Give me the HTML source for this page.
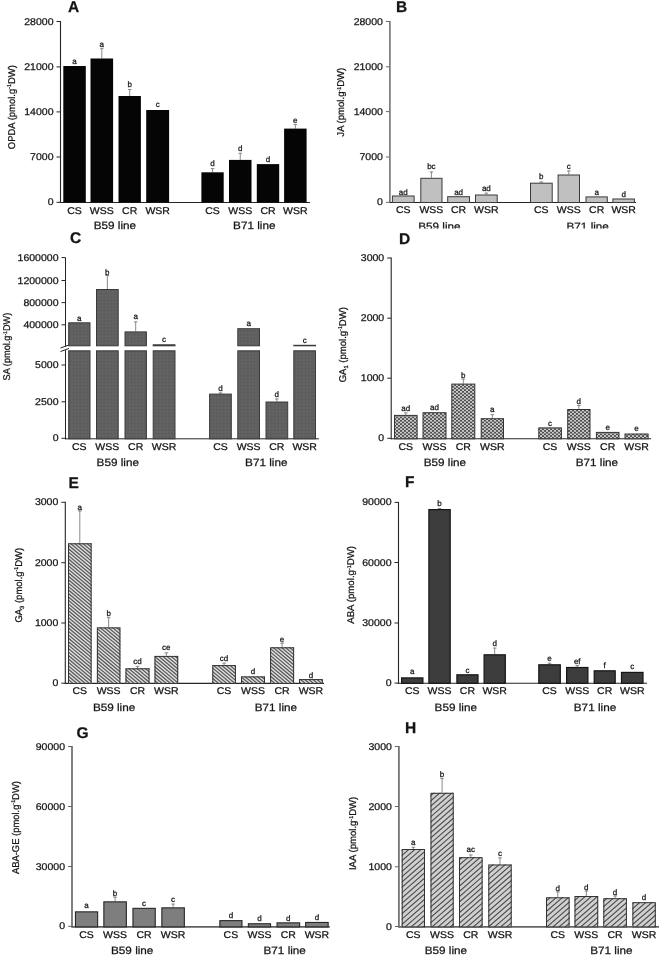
<!DOCTYPE html>
<html><head><meta charset="utf-8"><style>
html,body{margin:0;padding:0;background:#fff;}
svg{display:block;filter:blur(0.3px);}
.t{font-family:"Liberation Sans", sans-serif;fill:#141414;stroke:#141414;stroke-width:0.25px;text-rendering:geometricPrecision;}
</style></head><body>
<svg width="660" height="958" viewBox="0 0 660 958">
<rect width="660" height="958" fill="#fff"/>
<defs>
<pattern id="pC" width="2" height="2" patternUnits="userSpaceOnUse" patternTransform="rotate(45)">
<rect width="2" height="2" fill="#686868"/><rect width="1" height="1" fill="#585858"/><rect x="1" y="1" width="1" height="1" fill="#585858"/>
</pattern>
<pattern id="pD" width="4" height="3.4" patternUnits="userSpaceOnUse">
<rect width="4" height="3.4" fill="#505050"/><rect x="0.15" y="0.1" width="1.75" height="1.5" fill="#f0f0f0"/><rect x="2.15" y="1.8" width="1.75" height="1.5" fill="#f0f0f0"/>
</pattern>
<pattern id="pE" width="2.3" height="2.3" patternUnits="userSpaceOnUse" patternTransform="rotate(37)">
<rect width="2.3" height="2.3" fill="#dcdcdc"/><rect width="2.3" height="1.15" fill="#555"/>
</pattern>
<pattern id="pH" width="4.2" height="4.2" patternUnits="userSpaceOnUse" patternTransform="rotate(-36)">
<rect width="4.2" height="4.2" fill="#cdcdcd"/><rect width="4.2" height="1" fill="#505050"/>
</pattern>
<clipPath id="clipB"><rect x="330" y="0" width="330" height="228.6"/></clipPath>
</defs>
<line x1="60.5" y1="21" x2="60.5" y2="203" stroke="#262626" stroke-width="1.1"/>
<line x1="60" y1="202.5" x2="310" y2="202.5" stroke="#262626" stroke-width="1.1"/>
<line x1="56.5" y1="21.5" x2="60.5" y2="21.5" stroke="#262626" stroke-width="1"/>
<text x="53.5" y="24.5" text-anchor="end" font-size="9.8" textLength="29.25" lengthAdjust="spacingAndGlyphs" class="t">28000</text>
<line x1="56.5" y1="66.9" x2="60.5" y2="66.9" stroke="#262626" stroke-width="1"/>
<text x="53.5" y="69.9" text-anchor="end" font-size="9.8" textLength="29.25" lengthAdjust="spacingAndGlyphs" class="t">21000</text>
<line x1="56.5" y1="111.9" x2="60.5" y2="111.9" stroke="#262626" stroke-width="1"/>
<text x="53.5" y="114.9" text-anchor="end" font-size="9.8" textLength="29.25" lengthAdjust="spacingAndGlyphs" class="t">14000</text>
<line x1="56.5" y1="157" x2="60.5" y2="157" stroke="#262626" stroke-width="1"/>
<text x="53.5" y="160" text-anchor="end" font-size="9.8" textLength="23.4" lengthAdjust="spacingAndGlyphs" class="t">7000</text>
<line x1="56.5" y1="202.3" x2="60.5" y2="202.3" stroke="#262626" stroke-width="1"/>
<text x="53.5" y="205.3" text-anchor="end" font-size="9.8" textLength="5.85" lengthAdjust="spacingAndGlyphs" class="t">0</text>
<rect x="63.3" y="66" width="22.5" height="136.5" fill="#050505"/>
<text x="74.55" y="63.6" text-anchor="middle" font-size="8.0" class="t">a</text>
<line x1="101.8" y1="48.2" x2="101.8" y2="58.5" stroke="#8a8a8a" stroke-width="1"/>
<line x1="100" y1="48.7" x2="103.6" y2="48.7" stroke="#8a8a8a" stroke-width="1"/>
<rect x="90.5" y="58.5" width="22.6" height="144" fill="#050505"/>
<text x="101.8" y="46.7" text-anchor="middle" font-size="8.0" class="t">a</text>
<line x1="129.7" y1="89" x2="129.7" y2="96" stroke="#8a8a8a" stroke-width="1"/>
<line x1="127.9" y1="89.5" x2="131.5" y2="89.5" stroke="#8a8a8a" stroke-width="1"/>
<rect x="118.5" y="96" width="22.4" height="106.5" fill="#050505"/>
<text x="129.7" y="86.7" text-anchor="middle" font-size="8.0" class="t">b</text>
<rect x="146.2" y="110" width="22.9" height="92.5" fill="#050505"/>
<text x="157.65" y="107.3" text-anchor="middle" font-size="8.0" class="t">c</text>
<line x1="212.55" y1="168.1" x2="212.55" y2="172.3" stroke="#8a8a8a" stroke-width="1"/>
<line x1="210.75" y1="168.6" x2="214.35" y2="168.6" stroke="#8a8a8a" stroke-width="1"/>
<rect x="201.4" y="172.3" width="22.3" height="30.2" fill="#050505"/>
<text x="212.55" y="166.3" text-anchor="middle" font-size="8.0" class="t">d</text>
<line x1="240.25" y1="152.8" x2="240.25" y2="159.9" stroke="#8a8a8a" stroke-width="1"/>
<line x1="238.45" y1="153.3" x2="242.05" y2="153.3" stroke="#8a8a8a" stroke-width="1"/>
<rect x="229" y="159.9" width="22.5" height="42.6" fill="#050505"/>
<text x="240.25" y="150.5" text-anchor="middle" font-size="8.0" class="t">d</text>
<rect x="256.8" y="164.1" width="22.4" height="38.4" fill="#050505"/>
<text x="268" y="161.9" text-anchor="middle" font-size="8.0" class="t">d</text>
<line x1="295.35" y1="124.1" x2="295.35" y2="128.6" stroke="#8a8a8a" stroke-width="1"/>
<line x1="293.55" y1="124.6" x2="297.15" y2="124.6" stroke="#8a8a8a" stroke-width="1"/>
<rect x="284.1" y="128.6" width="22.5" height="73.9" fill="#050505"/>
<text x="295.35" y="123.2" text-anchor="middle" font-size="8.0" class="t">e</text>
<text x="74.55" y="214.1" text-anchor="middle" font-size="9.8" textLength="14.59" lengthAdjust="spacingAndGlyphs" class="t">CS</text>
<text x="101.8" y="214.1" text-anchor="middle" font-size="9.8" textLength="23.93" lengthAdjust="spacingAndGlyphs" class="t">WSS</text>
<text x="129.7" y="214.1" text-anchor="middle" font-size="9.8" textLength="15.17" lengthAdjust="spacingAndGlyphs" class="t">CR</text>
<text x="157.65" y="214.1" text-anchor="middle" font-size="9.8" textLength="24.51" lengthAdjust="spacingAndGlyphs" class="t">WSR</text>
<text x="212.55" y="214.1" text-anchor="middle" font-size="9.8" textLength="14.59" lengthAdjust="spacingAndGlyphs" class="t">CS</text>
<text x="240.25" y="214.1" text-anchor="middle" font-size="9.8" textLength="23.93" lengthAdjust="spacingAndGlyphs" class="t">WSS</text>
<text x="268" y="214.1" text-anchor="middle" font-size="9.8" textLength="15.17" lengthAdjust="spacingAndGlyphs" class="t">CR</text>
<text x="295.35" y="214.1" text-anchor="middle" font-size="9.8" textLength="24.51" lengthAdjust="spacingAndGlyphs" class="t">WSR</text>
<text x="114.9" y="229" text-anchor="middle" font-size="10.6" textLength="42.4" lengthAdjust="spacingAndGlyphs" class="t">B59 line</text>
<text x="254.3" y="228.8" text-anchor="middle" font-size="10.6" textLength="42.4" lengthAdjust="spacingAndGlyphs" class="t">B71 line</text>
<text transform="translate(14.6,107.17) rotate(-90)" text-anchor="middle" font-size="9.8" textLength="83.95" lengthAdjust="spacingAndGlyphs" class="t">OPDA (pmol.g<tspan font-size="5.5" dy="-3.5">-1</tspan><tspan dy="3.5">DW)</tspan></text>
<text x="68" y="11.8" font-size="15.5" font-weight="bold" class="t">A</text>
<g clip-path="url(#clipB)">
<line x1="389.9" y1="21" x2="389.9" y2="203" stroke="#6a6a6a" stroke-width="1.5"/>
<line x1="389.4" y1="202.5" x2="636" y2="202.5" stroke="#222" stroke-width="1.2"/>
<line x1="385.9" y1="21.5" x2="389.9" y2="21.5" stroke="#6a6a6a" stroke-width="1"/>
<text x="382.9" y="24.5" text-anchor="end" font-size="9.8" textLength="29.25" lengthAdjust="spacingAndGlyphs" class="t">28000</text>
<line x1="385.9" y1="66.8" x2="389.9" y2="66.8" stroke="#6a6a6a" stroke-width="1"/>
<text x="382.9" y="69.8" text-anchor="end" font-size="9.8" textLength="29.25" lengthAdjust="spacingAndGlyphs" class="t">21000</text>
<line x1="385.9" y1="111.6" x2="389.9" y2="111.6" stroke="#6a6a6a" stroke-width="1"/>
<text x="382.9" y="114.6" text-anchor="end" font-size="9.8" textLength="29.25" lengthAdjust="spacingAndGlyphs" class="t">14000</text>
<line x1="385.9" y1="157" x2="389.9" y2="157" stroke="#6a6a6a" stroke-width="1"/>
<text x="382.9" y="160" text-anchor="end" font-size="9.8" textLength="23.4" lengthAdjust="spacingAndGlyphs" class="t">7000</text>
<line x1="385.9" y1="202.3" x2="389.9" y2="202.3" stroke="#6a6a6a" stroke-width="1"/>
<text x="382.9" y="205.3" text-anchor="end" font-size="9.8" textLength="5.85" lengthAdjust="spacingAndGlyphs" class="t">0</text>
<rect x="392.4" y="196" width="21.7" height="6.5" fill="#c0c0c0" stroke="#3a3a3a" stroke-width="1"/>
<text x="403.25" y="194.5" text-anchor="middle" font-size="8.0" class="t">ad</text>
<line x1="431.4" y1="171.5" x2="431.4" y2="177.8" stroke="#8a8a8a" stroke-width="1"/>
<line x1="429.6" y1="172" x2="433.2" y2="172" stroke="#8a8a8a" stroke-width="1"/>
<rect x="420.8" y="178.3" width="21.2" height="24.2" fill="#c0c0c0" stroke="#3a3a3a" stroke-width="1"/>
<text x="431.4" y="169.3" text-anchor="middle" font-size="8.0" class="t">bc</text>
<rect x="447.7" y="196.7" width="21.8" height="5.8" fill="#c0c0c0" stroke="#3a3a3a" stroke-width="1"/>
<text x="458.6" y="194.5" text-anchor="middle" font-size="8.0" class="t">ad</text>
<line x1="486.35" y1="192.7" x2="486.35" y2="194.5" stroke="#8a8a8a" stroke-width="1"/>
<line x1="484.55" y1="193.2" x2="488.15" y2="193.2" stroke="#8a8a8a" stroke-width="1"/>
<rect x="475.5" y="195" width="21.7" height="7.5" fill="#c0c0c0" stroke="#3a3a3a" stroke-width="1"/>
<text x="486.35" y="191.3" text-anchor="middle" font-size="8.0" class="t">ad</text>
<line x1="541.35" y1="181.5" x2="541.35" y2="182.7" stroke="#8a8a8a" stroke-width="1"/>
<line x1="539.55" y1="182" x2="543.15" y2="182" stroke="#8a8a8a" stroke-width="1"/>
<rect x="530.5" y="183.2" width="21.7" height="19.3" fill="#c0c0c0" stroke="#3a3a3a" stroke-width="1"/>
<text x="541.35" y="179.1" text-anchor="middle" font-size="8.0" class="t">b</text>
<line x1="568.8" y1="170.5" x2="568.8" y2="174.5" stroke="#8a8a8a" stroke-width="1"/>
<line x1="567" y1="171" x2="570.6" y2="171" stroke="#8a8a8a" stroke-width="1"/>
<rect x="558.1" y="175" width="21.4" height="27.5" fill="#c0c0c0" stroke="#3a3a3a" stroke-width="1"/>
<text x="568.8" y="168.7" text-anchor="middle" font-size="8.0" class="t">c</text>
<rect x="586" y="196.9" width="21.3" height="5.6" fill="#c0c0c0" stroke="#3a3a3a" stroke-width="1"/>
<text x="596.65" y="194.5" text-anchor="middle" font-size="8.0" class="t">a</text>
<rect x="612.9" y="199" width="21.5" height="3.5" fill="#c0c0c0" stroke="#3a3a3a" stroke-width="1"/>
<text x="623.65" y="197.3" text-anchor="middle" font-size="8.0" class="t">d</text>
<text x="403.25" y="213.2" text-anchor="middle" font-size="9.8" textLength="14.59" lengthAdjust="spacingAndGlyphs" class="t">CS</text>
<text x="431.4" y="213.2" text-anchor="middle" font-size="9.8" textLength="23.93" lengthAdjust="spacingAndGlyphs" class="t">WSS</text>
<text x="458.6" y="213.2" text-anchor="middle" font-size="9.8" textLength="15.17" lengthAdjust="spacingAndGlyphs" class="t">CR</text>
<text x="486.35" y="213.2" text-anchor="middle" font-size="9.8" textLength="24.51" lengthAdjust="spacingAndGlyphs" class="t">WSR</text>
<text x="541.35" y="213.2" text-anchor="middle" font-size="9.8" textLength="14.59" lengthAdjust="spacingAndGlyphs" class="t">CS</text>
<text x="568.8" y="213.2" text-anchor="middle" font-size="9.8" textLength="23.93" lengthAdjust="spacingAndGlyphs" class="t">WSS</text>
<text x="596.65" y="213.2" text-anchor="middle" font-size="9.8" textLength="15.17" lengthAdjust="spacingAndGlyphs" class="t">CR</text>
<text x="623.65" y="213.2" text-anchor="middle" font-size="9.8" textLength="24.51" lengthAdjust="spacingAndGlyphs" class="t">WSR</text>
<text x="439.4" y="229.6" text-anchor="middle" font-size="10.6" textLength="42.4" lengthAdjust="spacingAndGlyphs" class="t">B59 line</text>
<text x="587.7" y="229.6" text-anchor="middle" font-size="10.6" textLength="42.4" lengthAdjust="spacingAndGlyphs" class="t">B71 line</text>
<text transform="translate(344.2,102.17) rotate(-90)" text-anchor="middle" font-size="9.8" textLength="68.95" lengthAdjust="spacingAndGlyphs" class="t">JA (pmol.g<tspan font-size="5.5" dy="-3.5">-1</tspan><tspan dy="3.5">DW)</tspan></text>
<text x="396.1" y="12" font-size="15.5" font-weight="bold" class="t">B</text>
</g>
<line x1="391.2" y1="257.5" x2="391.2" y2="439.3" stroke="#262626" stroke-width="1.1"/>
<line x1="390.7" y1="438.8" x2="651" y2="438.8" stroke="#262626" stroke-width="1.1"/>
<line x1="387.2" y1="258" x2="391.2" y2="258" stroke="#262626" stroke-width="1"/>
<text x="384.2" y="261" text-anchor="end" font-size="9.8" textLength="23.4" lengthAdjust="spacingAndGlyphs" class="t">3000</text>
<line x1="387.2" y1="318.2" x2="391.2" y2="318.2" stroke="#262626" stroke-width="1"/>
<text x="384.2" y="321.2" text-anchor="end" font-size="9.8" textLength="23.4" lengthAdjust="spacingAndGlyphs" class="t">2000</text>
<line x1="387.2" y1="378.2" x2="391.2" y2="378.2" stroke="#262626" stroke-width="1"/>
<text x="384.2" y="381.2" text-anchor="end" font-size="9.8" textLength="23.4" lengthAdjust="spacingAndGlyphs" class="t">1000</text>
<line x1="387.2" y1="438.3" x2="391.2" y2="438.3" stroke="#262626" stroke-width="1"/>
<text x="384.2" y="441.3" text-anchor="end" font-size="9.8" textLength="5.85" lengthAdjust="spacingAndGlyphs" class="t">0</text>
<line x1="405.8" y1="412.4" x2="405.8" y2="414.9" stroke="#8a8a8a" stroke-width="1"/>
<line x1="404" y1="412.9" x2="407.6" y2="412.9" stroke="#8a8a8a" stroke-width="1"/>
<rect x="394.5" y="415.4" width="22.6" height="23.4" fill="url(#pD)" stroke="#333" stroke-width="1"/>
<text x="405.8" y="410.9" text-anchor="middle" font-size="8.0" class="t">ad</text>
<rect x="423" y="412.7" width="23" height="26.1" fill="url(#pD)" stroke="#333" stroke-width="1"/>
<text x="434.5" y="410" text-anchor="middle" font-size="8.0" class="t">ad</text>
<line x1="463.3" y1="378.7" x2="463.3" y2="383.6" stroke="#8a8a8a" stroke-width="1"/>
<line x1="461.5" y1="379.2" x2="465.1" y2="379.2" stroke="#8a8a8a" stroke-width="1"/>
<rect x="451.8" y="384.1" width="23" height="54.7" fill="url(#pD)" stroke="#333" stroke-width="1"/>
<text x="463.3" y="377.6" text-anchor="middle" font-size="8.0" class="t">b</text>
<line x1="492.35" y1="414.2" x2="492.35" y2="418.2" stroke="#8a8a8a" stroke-width="1"/>
<line x1="490.55" y1="414.7" x2="494.15" y2="414.7" stroke="#8a8a8a" stroke-width="1"/>
<rect x="481.2" y="418.7" width="22.3" height="20.1" fill="url(#pD)" stroke="#333" stroke-width="1"/>
<text x="492.35" y="411.8" text-anchor="middle" font-size="8.0" class="t">a</text>
<rect x="538.8" y="427.9" width="22.6" height="10.9" fill="url(#pD)" stroke="#333" stroke-width="1"/>
<text x="550.1" y="425.9" text-anchor="middle" font-size="8.0" class="t">c</text>
<line x1="578.85" y1="405" x2="578.85" y2="409" stroke="#8a8a8a" stroke-width="1"/>
<line x1="577.05" y1="405.5" x2="580.65" y2="405.5" stroke="#8a8a8a" stroke-width="1"/>
<rect x="567.7" y="409.5" width="22.3" height="29.3" fill="url(#pD)" stroke="#333" stroke-width="1"/>
<text x="578.85" y="403.7" text-anchor="middle" font-size="8.0" class="t">d</text>
<rect x="596.4" y="432.4" width="22.6" height="6.4" fill="url(#pD)" stroke="#333" stroke-width="1"/>
<text x="607.7" y="429.9" text-anchor="middle" font-size="8.0" class="t">e</text>
<rect x="625" y="434" width="23.1" height="4.8" fill="url(#pD)" stroke="#333" stroke-width="1"/>
<text x="636.55" y="431.4" text-anchor="middle" font-size="8.0" class="t">e</text>
<text x="405.8" y="450" text-anchor="middle" font-size="9.8" textLength="14.59" lengthAdjust="spacingAndGlyphs" class="t">CS</text>
<text x="434.5" y="450" text-anchor="middle" font-size="9.8" textLength="23.93" lengthAdjust="spacingAndGlyphs" class="t">WSS</text>
<text x="463.3" y="450" text-anchor="middle" font-size="9.8" textLength="15.17" lengthAdjust="spacingAndGlyphs" class="t">CR</text>
<text x="492.35" y="450" text-anchor="middle" font-size="9.8" textLength="24.51" lengthAdjust="spacingAndGlyphs" class="t">WSR</text>
<text x="550.1" y="450" text-anchor="middle" font-size="9.8" textLength="14.59" lengthAdjust="spacingAndGlyphs" class="t">CS</text>
<text x="578.85" y="450" text-anchor="middle" font-size="9.8" textLength="23.93" lengthAdjust="spacingAndGlyphs" class="t">WSS</text>
<text x="607.7" y="450" text-anchor="middle" font-size="9.8" textLength="15.17" lengthAdjust="spacingAndGlyphs" class="t">CR</text>
<text x="636.55" y="450" text-anchor="middle" font-size="9.8" textLength="24.51" lengthAdjust="spacingAndGlyphs" class="t">WSR</text>
<text x="444.9" y="466.3" text-anchor="middle" font-size="10.6" textLength="42.4" lengthAdjust="spacingAndGlyphs" class="t">B59 line</text>
<text x="596.9" y="466.3" text-anchor="middle" font-size="10.6" textLength="42.4" lengthAdjust="spacingAndGlyphs" class="t">B71 line</text>
<text transform="translate(345.6,344.7) rotate(-90)" text-anchor="middle" font-size="9.8" textLength="75.2" lengthAdjust="spacingAndGlyphs" class="t">GA<tspan font-size="6" dy="2">1</tspan><tspan dy="-2"> </tspan> (pmol.g<tspan font-size="5.5" dy="-3.5">-1</tspan><tspan dy="3.5">DW)</tspan></text>
<text x="399.1" y="243.8" font-size="15.5" font-weight="bold" class="t">D</text>
<line x1="65.3" y1="501.8" x2="65.3" y2="683.9" stroke="#262626" stroke-width="1.1"/>
<line x1="64.8" y1="683.4" x2="324" y2="683.4" stroke="#262626" stroke-width="1.1"/>
<line x1="61.3" y1="502.3" x2="65.3" y2="502.3" stroke="#262626" stroke-width="1"/>
<text x="58.3" y="505.3" text-anchor="end" font-size="9.8" textLength="23.4" lengthAdjust="spacingAndGlyphs" class="t">3000</text>
<line x1="61.3" y1="562.7" x2="65.3" y2="562.7" stroke="#262626" stroke-width="1"/>
<text x="58.3" y="565.7" text-anchor="end" font-size="9.8" textLength="23.4" lengthAdjust="spacingAndGlyphs" class="t">2000</text>
<line x1="61.3" y1="623" x2="65.3" y2="623" stroke="#262626" stroke-width="1"/>
<text x="58.3" y="626" text-anchor="end" font-size="9.8" textLength="23.4" lengthAdjust="spacingAndGlyphs" class="t">1000</text>
<line x1="61.3" y1="683.2" x2="65.3" y2="683.2" stroke="#262626" stroke-width="1"/>
<text x="58.3" y="686.2" text-anchor="end" font-size="9.8" textLength="5.85" lengthAdjust="spacingAndGlyphs" class="t">0</text>
<line x1="79.8" y1="510.5" x2="79.8" y2="543.3" stroke="#8a8a8a" stroke-width="1"/>
<line x1="78" y1="511" x2="81.6" y2="511" stroke="#8a8a8a" stroke-width="1"/>
<clipPath id="hc1"><rect x="68" y="543.3" width="23.6" height="140.1"/></clipPath>
<rect x="68" y="543.3" width="23.6" height="140.1" fill="#dedede"/>
<path clip-path="url(#hc1)" d="M71.37 509.78L183.26 603.67M69.67 511.8L181.57 605.69M67.97 513.82L179.87 607.72M66.27 515.84L178.17 609.74M64.58 517.87L176.48 611.76M62.88 519.89L174.78 613.78M61.18 521.91L173.08 615.81M59.49 523.93L171.39 617.83M57.79 525.96L169.69 619.85M56.09 527.98L167.99 621.87M54.4 530L166.29 623.89M52.7 532.02L164.6 625.92M51 534.05L162.9 627.94M49.3 536.07L161.2 629.96M47.61 538.09L159.51 631.98M45.91 540.11L157.81 634.01M44.21 542.13L156.11 636.03M42.52 544.16L154.42 638.05M40.82 546.18L152.72 640.07M39.12 548.2L151.02 642.1M37.43 550.22L149.33 644.12M35.73 552.25L147.63 646.14M34.03 554.27L145.93 648.16M32.34 556.29L144.23 650.19M30.64 558.31L142.54 652.21M28.94 560.34L140.84 654.23M27.24 562.36L139.14 656.25M25.55 564.38L137.45 658.27M23.85 566.4L135.75 660.3M22.15 568.43L134.05 662.32M20.46 570.45L132.36 664.34M18.76 572.47L130.66 666.36M17.06 574.49L128.96 668.39M15.37 576.51L127.26 670.41M13.67 578.54L125.57 672.43M11.97 580.56L123.87 674.45M10.27 582.58L122.17 676.48M8.58 584.6L120.48 678.5M6.88 586.63L118.78 680.52M5.18 588.65L117.08 682.54M3.49 590.67L115.39 684.57M1.79 592.69L113.69 686.59M0.09 594.72L111.99 688.61M-1.6 596.74L110.3 690.63M-3.3 598.76L108.6 692.65M-5 600.78L106.9 694.68M-6.69 602.81L105.2 696.7M-8.39 604.83L103.51 698.72M-10.09 606.85L101.81 700.74M-11.79 608.87L100.11 702.77M-13.48 610.89L98.42 704.79M-15.18 612.92L96.72 706.81M-16.88 614.94L95.02 708.83M-18.57 616.96L93.33 710.86M-20.27 618.98L91.63 712.88M-21.97 621.01L89.93 714.9M-23.66 623.03L88.23 716.92" stroke="#5a5a5a" stroke-width="1.25" fill="none"/>
<rect x="68.5" y="543.8" width="22.6" height="139.6" fill="none" stroke="#333" stroke-width="1"/>
<text x="79.8" y="509.8" text-anchor="middle" font-size="8.0" class="t">a</text>
<line x1="108.65" y1="617.2" x2="108.65" y2="627.4" stroke="#8a8a8a" stroke-width="1"/>
<line x1="106.85" y1="617.7" x2="110.45" y2="617.7" stroke="#8a8a8a" stroke-width="1"/>
<clipPath id="hc2"><rect x="96.9" y="627.4" width="23.5" height="56"/></clipPath>
<rect x="96.9" y="627.4" width="23.5" height="56" fill="#dedede"/>
<path clip-path="url(#hc2)" d="M105.92 608.31L155.5 649.91M104.22 610.33L153.81 651.94M102.52 612.35L152.11 653.96M100.83 614.37L150.41 655.98M99.13 616.39L148.72 658M97.43 618.42L147.02 660.03M95.74 620.44L145.32 662.05M94.04 622.46L143.63 664.07M92.34 624.48L141.93 666.09M90.64 626.51L140.23 668.11M88.95 628.53L138.53 670.14M87.25 630.55L136.84 672.16M85.55 632.57L135.14 674.18M83.86 634.6L133.44 676.2M82.16 636.62L131.75 678.23M80.46 638.64L130.05 680.25M78.77 640.66L128.35 682.27M77.07 642.69L126.66 684.29M75.37 644.71L124.96 686.32M73.67 646.73L123.26 688.34M71.98 648.75L121.56 690.36M70.28 650.77L119.87 692.38M68.58 652.8L118.17 694.41M66.89 654.82L116.47 696.43M65.19 656.84L114.78 698.45M63.49 658.86L113.08 700.47M61.8 660.89L111.38 702.49" stroke="#5a5a5a" stroke-width="1.25" fill="none"/>
<rect x="97.4" y="627.9" width="22.5" height="55.5" fill="none" stroke="#333" stroke-width="1"/>
<text x="108.65" y="615.9" text-anchor="middle" font-size="8.0" class="t">b</text>
<line x1="137.5" y1="665.9" x2="137.5" y2="668.3" stroke="#8a8a8a" stroke-width="1"/>
<line x1="135.7" y1="666.4" x2="139.3" y2="666.4" stroke="#8a8a8a" stroke-width="1"/>
<clipPath id="hc3"><rect x="125.5" y="668.3" width="24" height="15.1"/></clipPath>
<rect x="125.5" y="668.3" width="24" height="15.1" fill="#dedede"/>
<path clip-path="url(#hc3)" d="M136.99 651.29L161.77 672.09M135.29 653.32L160.07 674.11M133.59 655.34L158.38 676.14M131.9 657.36L156.68 678.16M130.2 659.38L154.98 680.18M128.5 661.41L153.29 682.2M126.8 663.43L151.59 684.23M125.11 665.45L149.89 686.25M123.41 667.47L148.2 688.27M121.71 669.5L146.5 690.29M120.02 671.52L144.8 692.32M118.32 673.54L143.1 694.34M116.62 675.56L141.41 696.36M114.93 677.59L139.71 698.38M113.23 679.61L138.01 700.41" stroke="#5a5a5a" stroke-width="1.25" fill="none"/>
<rect x="126" y="668.8" width="23" height="14.6" fill="none" stroke="#333" stroke-width="1"/>
<text x="137.5" y="663.7" text-anchor="middle" font-size="8.0" class="t">cd</text>
<line x1="166.35" y1="652.3" x2="166.35" y2="655.9" stroke="#8a8a8a" stroke-width="1"/>
<line x1="164.55" y1="652.8" x2="168.15" y2="652.8" stroke="#8a8a8a" stroke-width="1"/>
<clipPath id="hc4"><rect x="154.5" y="655.9" width="23.7" height="27.5"/></clipPath>
<rect x="154.5" y="655.9" width="23.7" height="27.5" fill="#dedede"/>
<path clip-path="url(#hc4)" d="M164.49 640.52L195.36 666.42M162.79 642.54L193.67 668.45M161.09 644.56L191.97 670.47M159.4 646.58L190.27 672.49M157.7 648.61L188.57 674.51M156 650.63L186.88 676.54M154.31 652.65L185.18 678.56M152.61 654.67L183.48 680.58M150.91 656.7L181.79 682.6M149.22 658.72L180.09 684.63M147.52 660.74L178.39 686.65M145.82 662.76L176.7 688.67M144.13 664.79L175 690.69M142.43 666.81L173.3 692.72M140.73 668.83L171.61 694.74M139.03 670.85L169.91 696.76M137.34 672.88L168.21 698.78" stroke="#5a5a5a" stroke-width="1.25" fill="none"/>
<rect x="155" y="656.4" width="22.7" height="27" fill="none" stroke="#333" stroke-width="1"/>
<text x="166.35" y="650.1" text-anchor="middle" font-size="8.0" class="t">ce</text>
<line x1="224.1" y1="662.7" x2="224.1" y2="665.1" stroke="#8a8a8a" stroke-width="1"/>
<line x1="222.3" y1="663.2" x2="225.9" y2="663.2" stroke="#8a8a8a" stroke-width="1"/>
<clipPath id="hc5"><rect x="212.3" y="665.1" width="23.6" height="18.3"/></clipPath>
<rect x="212.3" y="665.1" width="23.6" height="18.3" fill="#dedede"/>
<path clip-path="url(#hc5)" d="M223.01 649.21L248.95 670.98M221.31 651.23L247.25 673M219.61 653.25L245.56 675.02M217.92 655.28L243.86 677.04M216.22 657.3L242.16 679.07M214.52 659.32L240.46 681.09M212.83 661.34L238.77 683.11M211.13 663.37L237.07 685.13M209.43 665.39L235.37 687.16M207.74 667.41L233.68 689.18M206.04 669.43L231.98 691.2M204.34 671.46L230.28 693.22M202.64 673.48L228.59 695.25M200.95 675.5L226.89 697.27M199.25 677.52L225.19 699.29" stroke="#5a5a5a" stroke-width="1.25" fill="none"/>
<rect x="212.8" y="665.6" width="22.6" height="17.8" fill="none" stroke="#333" stroke-width="1"/>
<text x="224.1" y="660.5" text-anchor="middle" font-size="8.0" class="t">cd</text>
<clipPath id="hc6"><rect x="241" y="676.4" width="24" height="7"/></clipPath>
<rect x="241" y="676.4" width="24" height="7" fill="#dedede"/>
<path clip-path="url(#hc6)" d="M252.07 658.45L274.29 677.09M250.38 660.47L272.59 679.11M248.68 662.49L270.9 681.13M246.98 664.51L269.2 683.15M245.29 666.53L267.5 685.18M243.59 668.56L265.8 687.2M241.89 670.58L264.11 689.22M240.2 672.6L262.41 691.24M238.5 674.62L260.71 693.27M236.8 676.65L259.02 695.29M235.1 678.67L257.32 697.31M233.41 680.69L255.62 699.33M231.71 682.71L253.93 701.35" stroke="#5a5a5a" stroke-width="1.25" fill="none"/>
<rect x="241.5" y="676.9" width="23" height="6.5" fill="none" stroke="#333" stroke-width="1"/>
<text x="253" y="674.2" text-anchor="middle" font-size="8.0" class="t">d</text>
<line x1="282.1" y1="642.7" x2="282.1" y2="647.3" stroke="#8a8a8a" stroke-width="1"/>
<line x1="280.3" y1="643.2" x2="283.9" y2="643.2" stroke="#8a8a8a" stroke-width="1"/>
<clipPath id="hc7"><rect x="270.1" y="647.3" width="24" height="36.1"/></clipPath>
<rect x="270.1" y="647.3" width="24" height="36.1" fill="#dedede"/>
<path clip-path="url(#hc7)" d="M279.24 631.93L315.51 662.37M277.54 633.95L313.81 664.39M275.84 635.98L312.11 666.41M274.15 638L310.42 668.43M272.45 640.02L308.72 670.46M270.75 642.04L307.02 672.48M269.05 644.06L305.33 674.5M267.36 646.09L303.63 676.52M265.66 648.11L301.93 678.55M263.96 650.13L300.24 680.57M262.27 652.15L298.54 682.59M260.57 654.18L296.84 684.61M258.87 656.2L295.15 686.64M257.18 658.22L293.45 688.66M255.48 660.24L291.75 690.68M253.78 662.27L290.05 692.7M252.09 664.29L288.36 694.72M250.39 666.31L286.66 696.75M248.69 668.33L284.96 698.77" stroke="#5a5a5a" stroke-width="1.25" fill="none"/>
<rect x="270.6" y="647.8" width="23" height="35.6" fill="none" stroke="#333" stroke-width="1"/>
<text x="282.1" y="641.8" text-anchor="middle" font-size="8.0" class="t">e</text>
<clipPath id="hc8"><rect x="299" y="679.1" width="23.8" height="4.3"/></clipPath>
<rect x="299" y="679.1" width="23.8" height="4.3" fill="#dedede"/>
<path clip-path="url(#hc8)" d="M310.29 660.06L331.88 678.17M308.59 662.08L330.18 680.2M306.89 664.1L328.48 682.22M305.2 666.12L326.79 684.24M303.5 668.15L325.09 686.26M301.8 670.17L323.39 688.29M300.1 672.19L321.7 690.31M298.41 674.21L320 692.33M296.71 676.24L318.3 694.35M295.01 678.26L316.6 696.38M293.32 680.28L314.91 698.4M291.62 682.3L313.21 700.42M289.92 684.33L311.51 702.44" stroke="#5a5a5a" stroke-width="1.25" fill="none"/>
<rect x="299.5" y="679.6" width="22.8" height="3.8" fill="none" stroke="#333" stroke-width="1"/>
<text x="310.9" y="677.6" text-anchor="middle" font-size="8.0" class="t">d</text>
<text x="79.8" y="694.1" text-anchor="middle" font-size="9.8" textLength="14.59" lengthAdjust="spacingAndGlyphs" class="t">CS</text>
<text x="108.65" y="694.1" text-anchor="middle" font-size="9.8" textLength="23.93" lengthAdjust="spacingAndGlyphs" class="t">WSS</text>
<text x="137.5" y="694.1" text-anchor="middle" font-size="9.8" textLength="15.17" lengthAdjust="spacingAndGlyphs" class="t">CR</text>
<text x="166.35" y="694.1" text-anchor="middle" font-size="9.8" textLength="24.51" lengthAdjust="spacingAndGlyphs" class="t">WSR</text>
<text x="224.1" y="694.1" text-anchor="middle" font-size="9.8" textLength="14.59" lengthAdjust="spacingAndGlyphs" class="t">CS</text>
<text x="253" y="694.1" text-anchor="middle" font-size="9.8" textLength="23.93" lengthAdjust="spacingAndGlyphs" class="t">WSS</text>
<text x="282.1" y="694.1" text-anchor="middle" font-size="9.8" textLength="15.17" lengthAdjust="spacingAndGlyphs" class="t">CR</text>
<text x="310.9" y="694.1" text-anchor="middle" font-size="9.8" textLength="24.51" lengthAdjust="spacingAndGlyphs" class="t">WSR</text>
<text x="114.1" y="710.8" text-anchor="middle" font-size="10.6" textLength="42.4" lengthAdjust="spacingAndGlyphs" class="t">B59 line</text>
<text x="275.9" y="710.7" text-anchor="middle" font-size="10.6" textLength="42.4" lengthAdjust="spacingAndGlyphs" class="t">B71 line</text>
<text transform="translate(21.6,585.2) rotate(-90)" text-anchor="middle" font-size="9.8" textLength="74.8" lengthAdjust="spacingAndGlyphs" class="t">GA<tspan font-size="6" dy="2">3</tspan><tspan dy="-2"> </tspan> (pmol.g<tspan font-size="5.5" dy="-3.5">-1</tspan><tspan dy="3.5">DW)</tspan></text>
<text x="68.6" y="487.8" font-size="15.5" font-weight="bold" class="t">E</text>
<line x1="398.5" y1="501.9" x2="398.5" y2="683.8" stroke="#262626" stroke-width="1.1"/>
<line x1="398" y1="683.3" x2="647" y2="683.3" stroke="#262626" stroke-width="1.1"/>
<line x1="394.5" y1="502.4" x2="398.5" y2="502.4" stroke="#262626" stroke-width="1"/>
<text x="391.5" y="505.4" text-anchor="end" font-size="9.8" textLength="29.25" lengthAdjust="spacingAndGlyphs" class="t">90000</text>
<line x1="394.5" y1="562.5" x2="398.5" y2="562.5" stroke="#262626" stroke-width="1"/>
<text x="391.5" y="565.5" text-anchor="end" font-size="9.8" textLength="29.25" lengthAdjust="spacingAndGlyphs" class="t">60000</text>
<line x1="394.5" y1="623" x2="398.5" y2="623" stroke="#262626" stroke-width="1"/>
<text x="391.5" y="626" text-anchor="end" font-size="9.8" textLength="29.25" lengthAdjust="spacingAndGlyphs" class="t">30000</text>
<line x1="394.5" y1="683.1" x2="398.5" y2="683.1" stroke="#262626" stroke-width="1"/>
<text x="391.5" y="686.1" text-anchor="end" font-size="9.8" textLength="5.85" lengthAdjust="spacingAndGlyphs" class="t">0</text>
<rect x="401.6" y="677.9" width="21.3" height="5.4" fill="#3c3c3c" stroke="#151515" stroke-width="1.2"/>
<text x="412.25" y="674.2" text-anchor="middle" font-size="8.0" class="t">a</text>
<line x1="439.55" y1="508" x2="439.55" y2="509" stroke="#8a8a8a" stroke-width="1"/>
<line x1="437.75" y1="508.5" x2="441.35" y2="508.5" stroke="#8a8a8a" stroke-width="1"/>
<rect x="428.9" y="509.6" width="21.3" height="173.7" fill="#3c3c3c" stroke="#151515" stroke-width="1.2"/>
<text x="439.55" y="506.3" text-anchor="middle" font-size="8.0" class="t">b</text>
<rect x="456.9" y="674.8" width="21.1" height="8.5" fill="#3c3c3c" stroke="#151515" stroke-width="1.2"/>
<text x="467.45" y="672.7" text-anchor="middle" font-size="8.0" class="t">c</text>
<line x1="494.7" y1="647.6" x2="494.7" y2="654.2" stroke="#8a8a8a" stroke-width="1"/>
<line x1="492.9" y1="648.1" x2="496.5" y2="648.1" stroke="#8a8a8a" stroke-width="1"/>
<rect x="484.1" y="654.8" width="21.2" height="28.5" fill="#3c3c3c" stroke="#151515" stroke-width="1.2"/>
<text x="494.7" y="645.5" text-anchor="middle" font-size="8.0" class="t">d</text>
<line x1="549.55" y1="662.7" x2="549.55" y2="664.2" stroke="#8a8a8a" stroke-width="1"/>
<line x1="547.75" y1="663.2" x2="551.35" y2="663.2" stroke="#8a8a8a" stroke-width="1"/>
<rect x="538.8" y="664.8" width="21.5" height="18.5" fill="#3c3c3c" stroke="#151515" stroke-width="1.2"/>
<text x="549.55" y="660.9" text-anchor="middle" font-size="8.0" class="t">e</text>
<line x1="577.25" y1="665" x2="577.25" y2="666.9" stroke="#8a8a8a" stroke-width="1"/>
<line x1="575.45" y1="665.5" x2="579.05" y2="665.5" stroke="#8a8a8a" stroke-width="1"/>
<rect x="566.6" y="667.5" width="21.3" height="15.8" fill="#3c3c3c" stroke="#151515" stroke-width="1.2"/>
<text x="577.25" y="663.6" text-anchor="middle" font-size="8.0" class="t">ef</text>
<rect x="594.2" y="670.8" width="21" height="12.5" fill="#3c3c3c" stroke="#151515" stroke-width="1.2"/>
<text x="604.7" y="668.2" text-anchor="middle" font-size="8.0" class="t">f</text>
<rect x="621.5" y="672.4" width="21.5" height="10.9" fill="#3c3c3c" stroke="#151515" stroke-width="1.2"/>
<text x="632.25" y="669.1" text-anchor="middle" font-size="8.0" class="t">c</text>
<text x="412.25" y="694" text-anchor="middle" font-size="9.8" textLength="14.59" lengthAdjust="spacingAndGlyphs" class="t">CS</text>
<text x="439.55" y="694" text-anchor="middle" font-size="9.8" textLength="23.93" lengthAdjust="spacingAndGlyphs" class="t">WSS</text>
<text x="467.45" y="694" text-anchor="middle" font-size="9.8" textLength="15.17" lengthAdjust="spacingAndGlyphs" class="t">CR</text>
<text x="494.7" y="694" text-anchor="middle" font-size="9.8" textLength="24.51" lengthAdjust="spacingAndGlyphs" class="t">WSR</text>
<text x="549.55" y="694" text-anchor="middle" font-size="9.8" textLength="14.59" lengthAdjust="spacingAndGlyphs" class="t">CS</text>
<text x="577.25" y="694" text-anchor="middle" font-size="9.8" textLength="23.93" lengthAdjust="spacingAndGlyphs" class="t">WSS</text>
<text x="604.7" y="694" text-anchor="middle" font-size="9.8" textLength="15.17" lengthAdjust="spacingAndGlyphs" class="t">CR</text>
<text x="632.25" y="694" text-anchor="middle" font-size="9.8" textLength="24.51" lengthAdjust="spacingAndGlyphs" class="t">WSR</text>
<text x="455.8" y="710.7" text-anchor="middle" font-size="10.6" textLength="42.4" lengthAdjust="spacingAndGlyphs" class="t">B59 line</text>
<text x="595" y="710.7" text-anchor="middle" font-size="10.6" textLength="42.4" lengthAdjust="spacingAndGlyphs" class="t">B71 line</text>
<text transform="translate(354.1,584.85) rotate(-90)" text-anchor="middle" font-size="9.8" textLength="77.9" lengthAdjust="spacingAndGlyphs" class="t">ABA (pmol.g<tspan font-size="5.5" dy="-3.5">-1</tspan><tspan dy="3.5">DW)</tspan></text>
<text x="404.9" y="487.2" font-size="15.5" font-weight="bold" class="t">F</text>
<line x1="72" y1="746" x2="72" y2="927.4" stroke="#606060" stroke-width="1.6"/>
<line x1="71.5" y1="926.9" x2="329.8" y2="926.9" stroke="#606060" stroke-width="1.6"/>
<line x1="68" y1="746.5" x2="72" y2="746.5" stroke="#606060" stroke-width="1"/>
<text x="65" y="749.5" text-anchor="end" font-size="9.8" textLength="29.25" lengthAdjust="spacingAndGlyphs" class="t">90000</text>
<line x1="68" y1="806.5" x2="72" y2="806.5" stroke="#606060" stroke-width="1"/>
<text x="65" y="809.5" text-anchor="end" font-size="9.8" textLength="29.25" lengthAdjust="spacingAndGlyphs" class="t">60000</text>
<line x1="68" y1="866.5" x2="72" y2="866.5" stroke="#606060" stroke-width="1"/>
<text x="65" y="869.5" text-anchor="end" font-size="9.8" textLength="29.25" lengthAdjust="spacingAndGlyphs" class="t">30000</text>
<line x1="68" y1="926.3" x2="72" y2="926.3" stroke="#606060" stroke-width="1"/>
<text x="65" y="929.3" text-anchor="end" font-size="9.8" textLength="5.85" lengthAdjust="spacingAndGlyphs" class="t">0</text>
<rect x="75.45" y="911.85" width="22.2" height="15.05" fill="#7e7e7e" stroke="#262626" stroke-width="1.1"/>
<text x="86.55" y="908.2" text-anchor="middle" font-size="8.0" class="t">a</text>
<line x1="115.1" y1="896.7" x2="115.1" y2="901.3" stroke="#8a8a8a" stroke-width="1"/>
<line x1="113.3" y1="897.2" x2="116.9" y2="897.2" stroke="#8a8a8a" stroke-width="1"/>
<rect x="103.85" y="901.85" width="22.5" height="25.05" fill="#7e7e7e" stroke="#262626" stroke-width="1.1"/>
<text x="115.1" y="895.5" text-anchor="middle" font-size="8.0" class="t">b</text>
<rect x="132.95" y="908.35" width="22.3" height="18.55" fill="#7e7e7e" stroke="#262626" stroke-width="1.1"/>
<text x="144.1" y="906.4" text-anchor="middle" font-size="8.0" class="t">c</text>
<line x1="173.1" y1="903.6" x2="173.1" y2="907.3" stroke="#8a8a8a" stroke-width="1"/>
<line x1="171.3" y1="904.1" x2="174.9" y2="904.1" stroke="#8a8a8a" stroke-width="1"/>
<rect x="161.85" y="907.85" width="22.5" height="19.05" fill="#7e7e7e" stroke="#262626" stroke-width="1.1"/>
<text x="173.1" y="901.8" text-anchor="middle" font-size="8.0" class="t">c</text>
<rect x="219.85" y="920.65" width="22.1" height="6.25" fill="#7e7e7e" stroke="#262626" stroke-width="1.1"/>
<text x="230.9" y="917.7" text-anchor="middle" font-size="8.0" class="t">d</text>
<rect x="248.35" y="923.75" width="22.2" height="3.15" fill="#7e7e7e" stroke="#262626" stroke-width="1.1"/>
<text x="259.45" y="920.8" text-anchor="middle" font-size="8.0" class="t">d</text>
<rect x="277.05" y="922.85" width="22.6" height="4.05" fill="#7e7e7e" stroke="#262626" stroke-width="1.1"/>
<text x="288.35" y="920.5" text-anchor="middle" font-size="8.0" class="t">d</text>
<rect x="305.65" y="922.45" width="22.5" height="4.45" fill="#7e7e7e" stroke="#262626" stroke-width="1.1"/>
<text x="316.9" y="920.1" text-anchor="middle" font-size="8.0" class="t">d</text>
<text x="86.55" y="937.6" text-anchor="middle" font-size="9.8" textLength="14.59" lengthAdjust="spacingAndGlyphs" class="t">CS</text>
<text x="115.1" y="937.6" text-anchor="middle" font-size="9.8" textLength="23.93" lengthAdjust="spacingAndGlyphs" class="t">WSS</text>
<text x="144.1" y="937.6" text-anchor="middle" font-size="9.8" textLength="15.17" lengthAdjust="spacingAndGlyphs" class="t">CR</text>
<text x="173.1" y="937.6" text-anchor="middle" font-size="9.8" textLength="24.51" lengthAdjust="spacingAndGlyphs" class="t">WSR</text>
<text x="230.9" y="937.6" text-anchor="middle" font-size="9.8" textLength="14.59" lengthAdjust="spacingAndGlyphs" class="t">CS</text>
<text x="259.45" y="937.6" text-anchor="middle" font-size="9.8" textLength="23.93" lengthAdjust="spacingAndGlyphs" class="t">WSS</text>
<text x="288.35" y="937.6" text-anchor="middle" font-size="9.8" textLength="15.17" lengthAdjust="spacingAndGlyphs" class="t">CR</text>
<text x="316.9" y="937.6" text-anchor="middle" font-size="9.8" textLength="24.51" lengthAdjust="spacingAndGlyphs" class="t">WSR</text>
<text x="132.2" y="953.8" text-anchor="middle" font-size="10.6" textLength="42.4" lengthAdjust="spacingAndGlyphs" class="t">B59 line</text>
<text x="284.7" y="954" text-anchor="middle" font-size="10.6" textLength="42.4" lengthAdjust="spacingAndGlyphs" class="t">B71 line</text>
<text transform="translate(18.8,827.6) rotate(-90)" text-anchor="middle" font-size="9.8" textLength="93" lengthAdjust="spacingAndGlyphs" class="t">ABA-GE (pmol.g<tspan font-size="5.5" dy="-3.5">-1</tspan><tspan dy="3.5">DW)</tspan></text>
<text x="76.6" y="738" font-size="15.5" font-weight="bold" class="t">G</text>
<line x1="398.9" y1="746" x2="398.9" y2="927.4" stroke="#646464" stroke-width="1.6"/>
<line x1="398.4" y1="926.9" x2="659" y2="926.9" stroke="#646464" stroke-width="1.6"/>
<line x1="394.9" y1="746.5" x2="398.9" y2="746.5" stroke="#646464" stroke-width="1"/>
<text x="391.9" y="749.5" text-anchor="end" font-size="9.8" textLength="23.4" lengthAdjust="spacingAndGlyphs" class="t">3000</text>
<line x1="394.9" y1="806.5" x2="398.9" y2="806.5" stroke="#646464" stroke-width="1"/>
<text x="391.9" y="809.5" text-anchor="end" font-size="9.8" textLength="23.4" lengthAdjust="spacingAndGlyphs" class="t">2000</text>
<line x1="394.9" y1="866.8" x2="398.9" y2="866.8" stroke="#646464" stroke-width="1"/>
<text x="391.9" y="869.8" text-anchor="end" font-size="9.8" textLength="23.4" lengthAdjust="spacingAndGlyphs" class="t">1000</text>
<line x1="394.9" y1="926.5" x2="398.9" y2="926.5" stroke="#646464" stroke-width="1"/>
<text x="391.9" y="929.5" text-anchor="end" font-size="9.8" textLength="5.85" lengthAdjust="spacingAndGlyphs" class="t">0</text>
<line x1="413.35" y1="846.8" x2="413.35" y2="849" stroke="#8a8a8a" stroke-width="1"/>
<line x1="411.55" y1="847.3" x2="415.15" y2="847.3" stroke="#8a8a8a" stroke-width="1"/>
<clipPath id="hc9"><rect x="401.7" y="849" width="23.3" height="77.9"/></clipPath>
<rect x="401.7" y="849" width="23.3" height="77.9" fill="#d0d0d0"/>
<path clip-path="url(#hc9)" d="M352.29 882.73L416.68 826.76M354.92 885.75L419.3 829.78M357.54 888.76L421.92 832.8M360.16 891.78L424.55 835.82M362.79 894.8L427.17 838.83M365.41 897.82L429.8 841.85M368.04 900.84L432.42 844.87M370.66 903.86L435.05 847.89M373.29 906.88L437.67 850.91M375.91 909.9L440.29 853.93M378.53 912.92L442.92 856.95M381.16 915.93L445.54 859.97M383.78 918.95L448.17 862.98M386.41 921.97L450.79 866M389.03 924.99L453.41 869.02M391.65 928.01L456.04 872.04M394.28 931.03L458.66 875.06M396.9 934.05L461.29 878.08M399.53 937.07L463.91 881.1M402.15 940.08L466.54 884.12M404.78 943.1L469.16 887.14M407.4 946.12L471.78 890.15M410.02 949.14L474.41 893.17" stroke="#4a4a4a" stroke-width="1.1" fill="none"/>
<rect x="402.2" y="849.5" width="22.3" height="77.4" fill="none" stroke="#333" stroke-width="1"/>
<text x="413.35" y="844.6" text-anchor="middle" font-size="8.0" class="t">a</text>
<line x1="442.1" y1="778.1" x2="442.1" y2="792.8" stroke="#8a8a8a" stroke-width="1"/>
<line x1="440.3" y1="778.6" x2="443.9" y2="778.6" stroke="#8a8a8a" stroke-width="1"/>
<clipPath id="hc10"><rect x="430.5" y="792.8" width="23.2" height="134.1"/></clipPath>
<rect x="430.5" y="792.8" width="23.2" height="134.1" fill="#d0d0d0"/>
<path clip-path="url(#hc10)" d="M342 851.47L447.73 759.56M344.62 854.48L450.35 762.58M347.25 857.5L452.98 765.59M349.87 860.52L455.6 768.61M352.5 863.54L458.23 771.63M355.12 866.56L460.85 774.65M357.74 869.58L463.47 777.67M360.37 872.6L466.1 780.69M362.99 875.62L468.72 783.71M365.62 878.63L471.35 786.73M368.24 881.65L473.97 789.74M370.87 884.67L476.59 792.76M373.49 887.69L479.22 795.78M376.11 890.71L481.84 798.8M378.74 893.73L484.47 801.82M381.36 896.75L487.09 804.84M383.99 899.77L489.72 807.86M386.61 902.79L492.34 810.88M389.24 905.8L494.96 813.9M391.86 908.82L497.59 816.91M394.48 911.84L500.21 819.93M397.11 914.86L502.84 822.95M399.73 917.88L505.46 825.97M402.36 920.9L508.09 828.99M404.98 923.92L510.71 832.01M407.61 926.94L513.33 835.03M410.23 929.96L515.96 838.05M412.85 932.97L518.58 841.07M415.48 935.99L521.21 844.08M418.1 939.01L523.83 847.1M420.73 942.03L526.46 850.12M423.35 945.05L529.08 853.14M425.97 948.07L531.7 856.16M428.6 951.09L534.33 859.18M431.22 954.11L536.95 862.2M433.85 957.12L539.58 865.22M436.47 960.14L542.2 868.23" stroke="#4a4a4a" stroke-width="1.1" fill="none"/>
<rect x="431" y="793.3" width="22.2" height="133.6" fill="none" stroke="#333" stroke-width="1"/>
<text x="442.1" y="777.4" text-anchor="middle" font-size="8.0" class="t">b</text>
<line x1="470.8" y1="854.5" x2="470.8" y2="857.2" stroke="#8a8a8a" stroke-width="1"/>
<line x1="469" y1="855" x2="472.6" y2="855" stroke="#8a8a8a" stroke-width="1"/>
<clipPath id="hc11"><rect x="459" y="857.2" width="23.6" height="69.7"/></clipPath>
<rect x="459" y="857.2" width="23.6" height="69.7" fill="#d0d0d0"/>
<path clip-path="url(#hc11)" d="M415.28 887.31L473.84 836.41M417.9 890.33L476.46 839.43M420.53 893.35L479.08 842.45M423.15 896.37L481.71 845.47M425.78 899.39L484.33 848.49M428.4 902.41L486.96 851.5M431.03 905.43L489.58 854.52M433.65 908.44L492.21 857.54M436.27 911.46L494.83 860.56M438.9 914.48L497.45 863.58M441.52 917.5L500.08 866.6M444.15 920.52L502.7 869.62M446.77 923.54L505.33 872.64M449.39 926.56L507.95 875.66M452.02 929.58L510.57 878.67M454.64 932.6L513.2 881.69M457.27 935.61L515.82 884.71M459.89 938.63L518.45 887.73M462.52 941.65L521.07 890.75M465.14 944.67L523.7 893.77M467.76 947.69L526.32 896.79" stroke="#4a4a4a" stroke-width="1.1" fill="none"/>
<rect x="459.5" y="857.7" width="22.6" height="69.2" fill="none" stroke="#333" stroke-width="1"/>
<text x="470.8" y="852.3" text-anchor="middle" font-size="8.0" class="t">ac</text>
<line x1="500" y1="857.4" x2="500" y2="864.5" stroke="#8a8a8a" stroke-width="1"/>
<line x1="498.2" y1="857.9" x2="501.8" y2="857.9" stroke="#8a8a8a" stroke-width="1"/>
<clipPath id="hc12"><rect x="488.3" y="864.5" width="23.4" height="62.4"/></clipPath>
<rect x="488.3" y="864.5" width="23.4" height="62.4" fill="#d0d0d0"/>
<path clip-path="url(#hc12)" d="M449.72 891.7L503.04 845.36M452.35 894.72L505.66 848.38M454.97 897.74L508.29 851.4M457.6 900.76L510.91 854.41M460.22 903.78L513.54 857.43M462.85 906.8L516.16 860.45M465.47 909.82L518.78 863.47M468.09 912.84L521.41 866.49M470.72 915.85L524.03 869.51M473.34 918.87L526.66 872.53M475.97 921.89L529.28 875.55M478.59 924.91L531.91 878.56M481.22 927.93L534.53 881.58M483.84 930.95L537.15 884.6M486.46 933.97L539.78 887.62M489.09 936.99L542.4 890.64M491.71 940L545.03 893.66M494.34 943.02L547.65 896.68M496.96 946.04L550.28 899.7" stroke="#4a4a4a" stroke-width="1.1" fill="none"/>
<rect x="488.8" y="865" width="22.4" height="61.9" fill="none" stroke="#333" stroke-width="1"/>
<text x="500" y="855.9" text-anchor="middle" font-size="8.0" class="t">c</text>
<line x1="557.8" y1="891.5" x2="557.8" y2="897.3" stroke="#8a8a8a" stroke-width="1"/>
<line x1="556" y1="892" x2="559.6" y2="892" stroke="#8a8a8a" stroke-width="1"/>
<clipPath id="hc13"><rect x="546" y="897.3" width="23.6" height="29.6"/></clipPath>
<rect x="546" y="897.3" width="23.6" height="29.6" fill="#d0d0d0"/>
<path clip-path="url(#hc13)" d="M526.26 907.72L557.85 880.26M528.88 910.74L560.47 883.28M531.51 913.75L563.1 886.29M534.13 916.77L565.72 889.31M536.76 919.79L568.35 892.33M539.38 922.81L570.97 895.35M542.01 925.83L573.59 898.37M544.63 928.85L576.22 901.39M547.25 931.87L578.84 904.41M549.88 934.89L581.47 907.43M552.5 937.91L584.09 910.45M555.13 940.92L586.72 913.46M557.75 943.94L589.34 916.48" stroke="#4a4a4a" stroke-width="1.1" fill="none"/>
<rect x="546.5" y="897.8" width="22.6" height="29.1" fill="none" stroke="#333" stroke-width="1"/>
<text x="557.8" y="890.9" text-anchor="middle" font-size="8.0" class="t">d</text>
<line x1="586.35" y1="890.5" x2="586.35" y2="896" stroke="#8a8a8a" stroke-width="1"/>
<line x1="584.55" y1="891" x2="588.15" y2="891" stroke="#8a8a8a" stroke-width="1"/>
<clipPath id="hc14"><rect x="574.5" y="896" width="23.7" height="30.9"/></clipPath>
<rect x="574.5" y="896" width="23.7" height="30.9" fill="#d0d0d0"/>
<path clip-path="url(#hc14)" d="M554.4 907.42L586.81 879.25M557.02 910.44L589.43 882.27M559.65 913.46L592.06 885.29M562.27 916.48L594.68 888.31M564.9 919.5L597.31 891.33M567.52 922.52L599.93 894.34M570.15 925.54L602.55 897.36M572.77 928.56L605.18 900.38M575.39 931.57L607.8 903.4M578.02 934.59L610.43 906.42M580.64 937.61L613.05 909.44M583.27 940.63L615.68 912.46M585.89 943.65L618.3 915.48" stroke="#4a4a4a" stroke-width="1.1" fill="none"/>
<rect x="575" y="896.5" width="22.7" height="30.4" fill="none" stroke="#333" stroke-width="1"/>
<text x="586.35" y="890" text-anchor="middle" font-size="8.0" class="t">d</text>
<line x1="615.1" y1="895.5" x2="615.1" y2="898.2" stroke="#8a8a8a" stroke-width="1"/>
<line x1="613.3" y1="896" x2="616.9" y2="896" stroke="#8a8a8a" stroke-width="1"/>
<clipPath id="hc15"><rect x="603.3" y="898.2" width="23.6" height="28.7"/></clipPath>
<rect x="603.3" y="898.2" width="23.6" height="28.7" fill="#d0d0d0"/>
<path clip-path="url(#hc15)" d="M583.82 907.94L614.89 880.94M586.45 910.96L617.51 883.96M589.07 913.98L620.13 886.97M591.7 916.99L622.76 889.99M594.32 920.01L625.38 893.01M596.94 923.03L628.01 896.03M599.57 926.05L630.63 899.05M602.19 929.07L633.26 902.07M604.82 932.09L635.88 905.09M607.44 935.11L638.5 908.11M610.07 938.13L641.13 911.12M612.69 941.14L643.75 914.14M615.31 944.16L646.38 917.16" stroke="#4a4a4a" stroke-width="1.1" fill="none"/>
<rect x="603.8" y="898.7" width="22.6" height="28.2" fill="none" stroke="#333" stroke-width="1"/>
<text x="615.1" y="894.5" text-anchor="middle" font-size="8.0" class="t">d</text>
<clipPath id="hc16"><rect x="632.4" y="902.2" width="23.4" height="24.7"/></clipPath>
<rect x="632.4" y="902.2" width="23.4" height="24.7" fill="#d0d0d0"/>
<path clip-path="url(#hc16)" d="M616.63 911.93L645.33 886.98M619.25 914.95L647.95 890M621.88 917.97L650.58 893.02M624.5 920.99L653.2 896.04M627.13 924L655.82 899.06M629.75 927.02L658.45 902.08M632.38 930.04L661.07 905.1M635 933.06L663.7 908.11M637.62 936.08L666.32 911.13M640.25 939.1L668.95 914.15M642.87 942.12L671.57 917.17" stroke="#4a4a4a" stroke-width="1.1" fill="none"/>
<rect x="632.9" y="902.7" width="22.4" height="24.2" fill="none" stroke="#333" stroke-width="1"/>
<text x="644.1" y="899.6" text-anchor="middle" font-size="8.0" class="t">d</text>
<text x="413.35" y="938" text-anchor="middle" font-size="9.8" textLength="14.59" lengthAdjust="spacingAndGlyphs" class="t">CS</text>
<text x="442.1" y="938" text-anchor="middle" font-size="9.8" textLength="23.93" lengthAdjust="spacingAndGlyphs" class="t">WSS</text>
<text x="470.8" y="938" text-anchor="middle" font-size="9.8" textLength="15.17" lengthAdjust="spacingAndGlyphs" class="t">CR</text>
<text x="500" y="938" text-anchor="middle" font-size="9.8" textLength="24.51" lengthAdjust="spacingAndGlyphs" class="t">WSR</text>
<text x="557.8" y="938" text-anchor="middle" font-size="9.8" textLength="14.59" lengthAdjust="spacingAndGlyphs" class="t">CS</text>
<text x="586.35" y="938" text-anchor="middle" font-size="9.8" textLength="23.93" lengthAdjust="spacingAndGlyphs" class="t">WSS</text>
<text x="615.1" y="938" text-anchor="middle" font-size="9.8" textLength="15.17" lengthAdjust="spacingAndGlyphs" class="t">CR</text>
<text x="644.1" y="938" text-anchor="middle" font-size="9.8" textLength="24.51" lengthAdjust="spacingAndGlyphs" class="t">WSR</text>
<text x="445.9" y="954" text-anchor="middle" font-size="10.6" textLength="42.4" lengthAdjust="spacingAndGlyphs" class="t">B59 line</text>
<text x="611.4" y="954" text-anchor="middle" font-size="10.6" textLength="42.4" lengthAdjust="spacingAndGlyphs" class="t">B71 line</text>
<text transform="translate(356.4,833.4) rotate(-90)" text-anchor="middle" font-size="9.8" textLength="73.4" lengthAdjust="spacingAndGlyphs" class="t">IAA (pmol.g<tspan font-size="5.5" dy="-3.5">-1</tspan><tspan dy="3.5">DW)</tspan></text>
<text x="405" y="732.9" font-size="15.5" font-weight="bold" class="t">H</text>
<line x1="65.5" y1="257.5" x2="65.5" y2="346.3" stroke="#262626" stroke-width="1"/>
<line x1="65.5" y1="350.2" x2="65.5" y2="439.3" stroke="#262626" stroke-width="1"/>
<line x1="65.0" y1="438.8" x2="319" y2="438.8" stroke="#262626" stroke-width="1"/>
<line x1="60.5" y1="348" x2="69" y2="345" stroke="#262626" stroke-width="1"/>
<line x1="60.5" y1="351.5" x2="69" y2="348.5" stroke="#262626" stroke-width="1"/>
<line x1="61.5" y1="257.6" x2="65.5" y2="257.6" stroke="#262626" stroke-width="1"/>
<text x="58.5" y="260.6" text-anchor="end" font-size="9.8" textLength="40.95" lengthAdjust="spacingAndGlyphs" class="t">1600000</text>
<line x1="61.5" y1="280.5" x2="65.5" y2="280.5" stroke="#262626" stroke-width="1"/>
<text x="58.5" y="283.5" text-anchor="end" font-size="9.8" textLength="40.95" lengthAdjust="spacingAndGlyphs" class="t">1200000</text>
<line x1="61.5" y1="302.6" x2="65.5" y2="302.6" stroke="#262626" stroke-width="1"/>
<text x="58.5" y="305.6" text-anchor="end" font-size="9.8" textLength="35.1" lengthAdjust="spacingAndGlyphs" class="t">800000</text>
<line x1="61.5" y1="324.8" x2="65.5" y2="324.8" stroke="#262626" stroke-width="1"/>
<text x="58.5" y="327.8" text-anchor="end" font-size="9.8" textLength="35.1" lengthAdjust="spacingAndGlyphs" class="t">400000</text>
<line x1="61.5" y1="365" x2="65.5" y2="365" stroke="#262626" stroke-width="1"/>
<text x="58.5" y="368" text-anchor="end" font-size="9.8" textLength="23.4" lengthAdjust="spacingAndGlyphs" class="t">5000</text>
<line x1="61.5" y1="401.8" x2="65.5" y2="401.8" stroke="#262626" stroke-width="1"/>
<text x="58.5" y="404.8" text-anchor="end" font-size="9.8" textLength="23.4" lengthAdjust="spacingAndGlyphs" class="t">2500</text>
<line x1="61.5" y1="438.3" x2="65.5" y2="438.3" stroke="#262626" stroke-width="1"/>
<text x="58.5" y="441.3" text-anchor="end" font-size="9.8" textLength="5.85" lengthAdjust="spacingAndGlyphs" class="t">0</text>
<rect x="68.7" y="322.8" width="21.3" height="23" fill="url(#pC)" stroke="#3a3a3a" stroke-width="1"/>
<rect x="68.7" y="350.8" width="21.3" height="88" fill="url(#pC)" stroke="#3a3a3a" stroke-width="1"/>
<text x="79.35" y="320.5" text-anchor="middle" font-size="8.0" class="t">a</text>
<line x1="107.35" y1="275" x2="107.35" y2="289" stroke="#8a8a8a" stroke-width="1"/>
<line x1="105.55" y1="275.5" x2="109.15" y2="275.5" stroke="#8a8a8a" stroke-width="1"/>
<rect x="96.5" y="289.5" width="21.7" height="56.3" fill="url(#pC)" stroke="#3a3a3a" stroke-width="1"/>
<rect x="96.5" y="350.8" width="21.7" height="88" fill="url(#pC)" stroke="#3a3a3a" stroke-width="1"/>
<text x="107.35" y="274.5" text-anchor="middle" font-size="8.0" class="t">b</text>
<line x1="135.7" y1="321.4" x2="135.7" y2="331.4" stroke="#8a8a8a" stroke-width="1"/>
<line x1="133.9" y1="321.9" x2="137.5" y2="321.9" stroke="#8a8a8a" stroke-width="1"/>
<rect x="125" y="331.9" width="21.4" height="13.9" fill="url(#pC)" stroke="#3a3a3a" stroke-width="1"/>
<rect x="125" y="350.8" width="21.4" height="88" fill="url(#pC)" stroke="#3a3a3a" stroke-width="1"/>
<text x="135.7" y="319.2" text-anchor="middle" font-size="8.0" class="t">a</text>
<rect x="153.2" y="344.8" width="21.8" height="1" fill="url(#pC)" stroke="#3a3a3a" stroke-width="1"/>
<rect x="153.2" y="350.8" width="21.8" height="88" fill="url(#pC)" stroke="#3a3a3a" stroke-width="1"/>
<text x="164.1" y="341.7" text-anchor="middle" font-size="8.0" class="t">c</text>
<line x1="220.45" y1="392.4" x2="220.45" y2="393.6" stroke="#8a8a8a" stroke-width="1"/>
<line x1="218.65" y1="392.9" x2="222.25" y2="392.9" stroke="#8a8a8a" stroke-width="1"/>
<rect x="209.6" y="394.1" width="21.7" height="44.7" fill="url(#pC)" stroke="#3a3a3a" stroke-width="1"/>
<text x="220.45" y="390.9" text-anchor="middle" font-size="8.0" class="t">d</text>
<rect x="237.8" y="328.7" width="21.7" height="17.1" fill="url(#pC)" stroke="#3a3a3a" stroke-width="1"/>
<rect x="237.8" y="350.8" width="21.7" height="88" fill="url(#pC)" stroke="#3a3a3a" stroke-width="1"/>
<text x="248.65" y="326.4" text-anchor="middle" font-size="8.0" class="t">a</text>
<line x1="276.85" y1="398.5" x2="276.85" y2="401.5" stroke="#8a8a8a" stroke-width="1"/>
<line x1="275.05" y1="399" x2="278.65" y2="399" stroke="#8a8a8a" stroke-width="1"/>
<rect x="266" y="402" width="21.7" height="36.8" fill="url(#pC)" stroke="#3a3a3a" stroke-width="1"/>
<text x="276.85" y="397.3" text-anchor="middle" font-size="8.0" class="t">d</text>
<rect x="293.8" y="345.3" width="21.7" height="0.5" fill="url(#pC)" stroke="#3a3a3a" stroke-width="1"/>
<rect x="293.8" y="350.8" width="21.7" height="88" fill="url(#pC)" stroke="#3a3a3a" stroke-width="1"/>
<text x="304.65" y="343.3" text-anchor="middle" font-size="8.0" class="t">c</text>
<text x="79.35" y="449.8" text-anchor="middle" font-size="9.8" textLength="14.59" lengthAdjust="spacingAndGlyphs" class="t">CS</text>
<text x="107.35" y="449.8" text-anchor="middle" font-size="9.8" textLength="23.93" lengthAdjust="spacingAndGlyphs" class="t">WSS</text>
<text x="135.7" y="449.8" text-anchor="middle" font-size="9.8" textLength="15.17" lengthAdjust="spacingAndGlyphs" class="t">CR</text>
<text x="164.1" y="449.8" text-anchor="middle" font-size="9.8" textLength="24.51" lengthAdjust="spacingAndGlyphs" class="t">WSR</text>
<text x="220.45" y="449.8" text-anchor="middle" font-size="9.8" textLength="14.59" lengthAdjust="spacingAndGlyphs" class="t">CS</text>
<text x="248.65" y="449.8" text-anchor="middle" font-size="9.8" textLength="23.93" lengthAdjust="spacingAndGlyphs" class="t">WSS</text>
<text x="276.85" y="449.8" text-anchor="middle" font-size="9.8" textLength="15.17" lengthAdjust="spacingAndGlyphs" class="t">CR</text>
<text x="304.65" y="449.8" text-anchor="middle" font-size="9.8" textLength="24.51" lengthAdjust="spacingAndGlyphs" class="t">WSR</text>
<text x="117.8" y="466.3" text-anchor="middle" font-size="10.6" textLength="42.4" lengthAdjust="spacingAndGlyphs" class="t">B59 line</text>
<text x="266.3" y="466.3" text-anchor="middle" font-size="10.6" textLength="42.4" lengthAdjust="spacingAndGlyphs" class="t">B71 line</text>
<text transform="translate(10.4,346.55) rotate(-90)" text-anchor="middle" font-size="9.8" textLength="67.7" lengthAdjust="spacingAndGlyphs" class="t">SA (pmol.g<tspan font-size="5.5" dy="-3.5">-1</tspan><tspan dy="3.5">DW)</tspan></text>
<text x="69.9" y="243.3" font-size="15.5" font-weight="bold" class="t">C</text>
</svg>
</body></html>
